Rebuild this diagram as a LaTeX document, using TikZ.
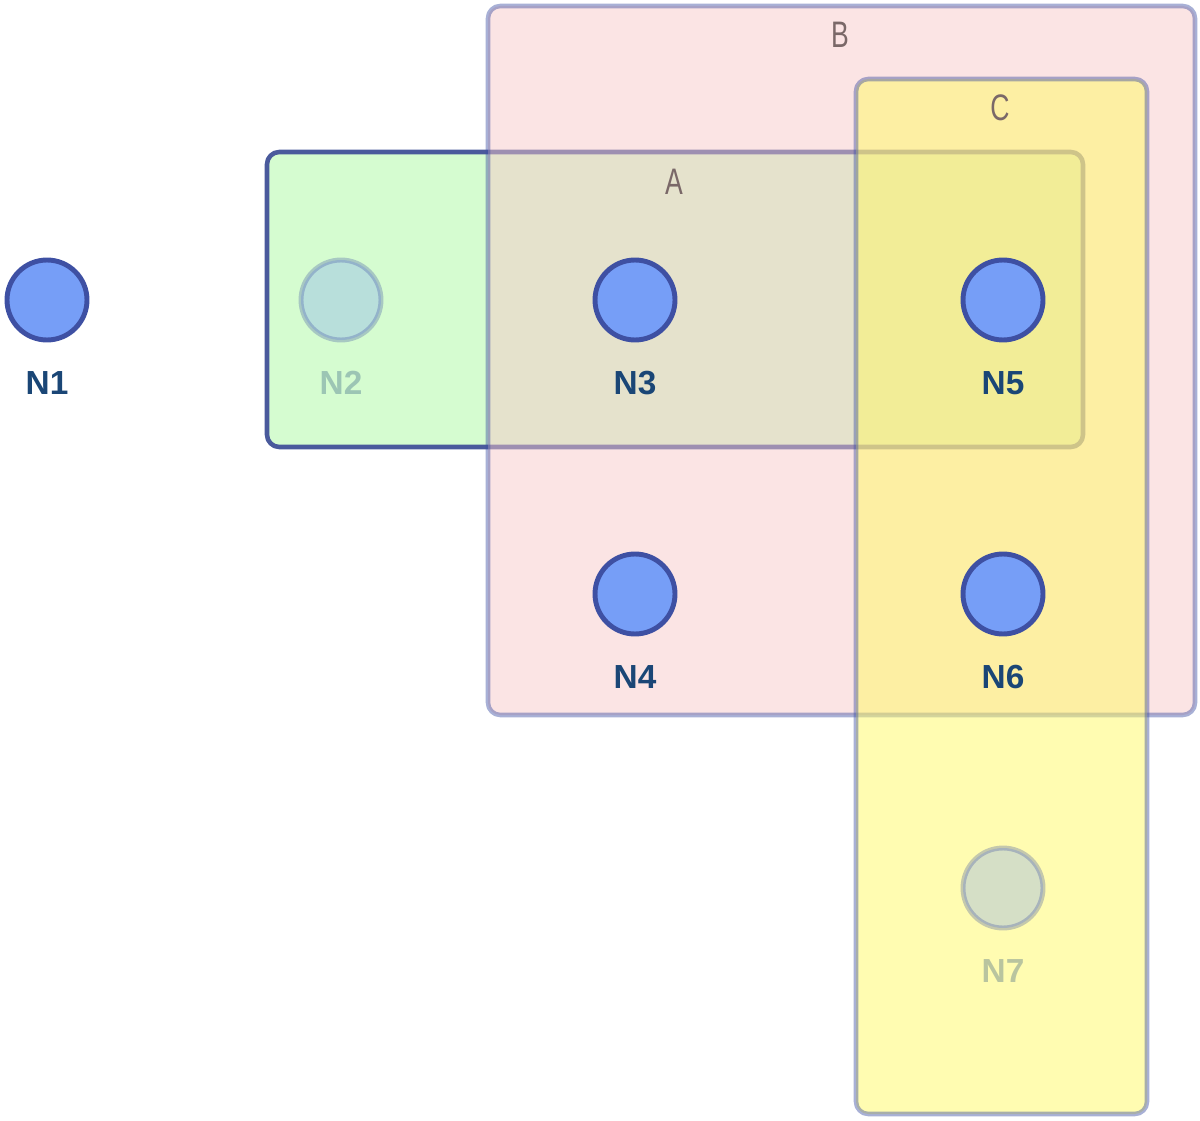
\documentclass[tikz,border=0pt]{standalone}
\usepackage{fontspec}
\setmainfont{Liberation Sans}
\usepackage{tikz}
\usetikzlibrary{positioning}

\definecolor{vfill}{RGB}{118,158,247}
\definecolor{vline}{RGB}{62,80,163}
\definecolor{vtext}{RGB}{26,70,118}
\definecolor{aline}{RGB}{74,90,156}
\definecolor{afill}{RGB}{213,252,208}
\definecolor{bfill}{RGB}{247,200,200}
\definecolor{cfill}{RGB}{255,249,99}
\definecolor{sline}{RGB}{62,80,163}
\definecolor{stext}{RGB}{122,104,104}

\begin{document}
\begin{tikzpicture}[
  x=0.02cm,y=-0.02cm,
  line cap=round,line join=round,
  set/.style={line width=2.6pt,rounded corners=7pt},
  vertex/.style={circle,draw=vline,fill=vfill,line width=2.8pt,
    minimum size=1.6cm,inner sep=0pt},
  faded/.style={opacity=0.3},
  vlabel/.style={text=vtext,font=\fontsize{19}{22}\selectfont\bfseries,
    inner sep=0pt},
  slabel/.style={text=stext,font=\fontsize{21}{24}\selectfont,inner sep=0pt}
]
  \useasboundingbox (0,0) rectangle (1200,1121);

  % Sets, A under B under C
  \draw[set,draw=aline,fill=afill] (267,152) rectangle (1083,447);
  \draw[set,draw=sline,draw opacity=0.45,fill=bfill,fill opacity=0.49]
    (488,6) rectangle (1195,715);
  \draw[set,draw=sline,draw opacity=0.45,fill=cfill,fill opacity=0.5]
    (856,79) rectangle (1147,1114);

  % Set names
  \node[slabel] (la) at (674,182) {\scalebox{0.72}[1]{A}};
  \node[slabel] (lb) at (840,35) {\scalebox{0.72}[1]{B}};
  \node[slabel] (lc) at (1000,108) {\scalebox{0.72}[1]{C}};

  % Vertices
  \foreach \name/\px/\py in {1/47/300,3/635/300,5/1003/300,4/635/594,6/1003/594}{
    \node[vertex] (n\name) at (\px,\py) {};
    \node[vlabel] (l\name) at (\px,\py+83) {N\name};
  }
  \foreach \name/\px/\py in {2/341/300,7/1003/888}{
    \node[vertex,faded] (n\name) at (\px,\py) {};
    \node[vlabel,text opacity=0.3] (l\name) at (\px,\py+83) {N\name};
  }
\end{tikzpicture}
\end{document}
